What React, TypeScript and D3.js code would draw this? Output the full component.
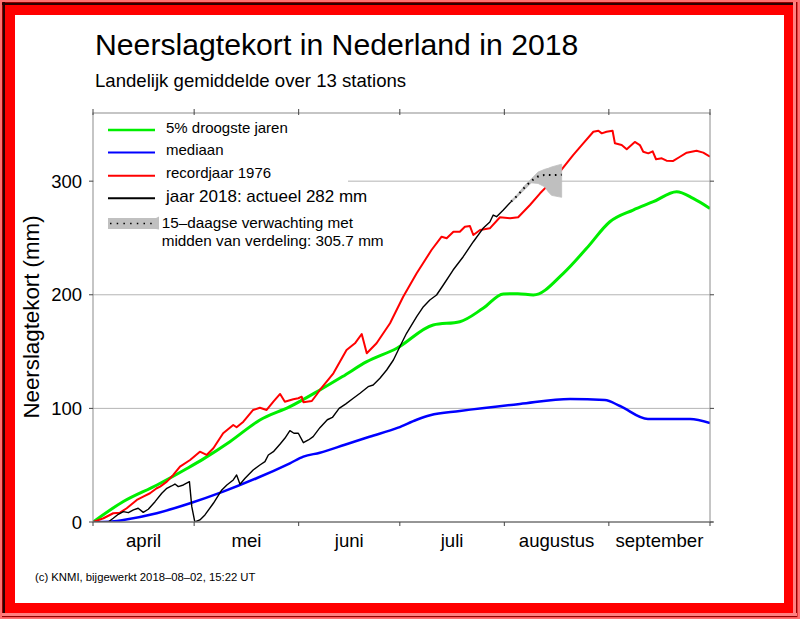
import React from 'react';
import * as d3 from 'd3';

// days since 1 April 2018
const monthStarts = [0, 30, 61, 91, 122, 153, 183];
const monthLabels = ['april', 'mei', 'juni', 'juli', 'augustus', 'september'];
const yTicks = [0, 100, 200, 300];
const gridValues = [100, 200, 300];

const droogste5: [number, number][] = [
  [0, 0], [9, 18], [19, 32.6], [28, 47.3], [33, 56], [40.6, 70.7], [49.5, 89.8], [58.4, 101.5],
  [67.3, 116.2], [74, 128], [81.2, 141.1], [90.1, 152.9], [100.9, 173.4], [108.8, 176.3],
  [115.7, 188.1], [121.7, 200.7], [126, 201], [130.6, 199.8], [139.5, 218.9], [146.4, 240.9],
  [153.3, 264.3], [160.2, 274.6], [166.2, 281.9], [173.1, 290.7], [178, 284.9], [183, 276],
];

const mediaan: [number, number][] = [
  [0, 0], [5, 0.3], [9, 1.8], [18.9, 7.7], [28.8, 16.5], [38.6, 26.7], [48.5, 38.5], [58.4, 51.7],
  [62.4, 57.5], [67.3, 61], [74.7, 68], [82, 75], [90.5, 83], [96, 90], [100, 94], [108.8, 97.7],
  [126.6, 103.9], [141.5, 108.3], [151.8, 107.4], [156.3, 102.1], [164.6, 90.7], [177.1, 90.7], [183, 87.1],
];

const record1976: [number, number][] = [
  [0, 0], [3.1, 3.3], [6, 7.7], [8, 8.2], [10, 12.1], [13, 19.4], [14.9, 22.3], [16.9, 25.3], [18.9, 29.7],
  [19.9, 31.1], [21.9, 35.5], [23.8, 41.4], [25.8, 48.7], [28.8, 54.6], [31.7, 61.9], [33.7, 59],
  [35.7, 64.9], [38.6, 78.1], [41.6, 85.4], [42.6, 83.4], [44.6, 88.3], [47.5, 98.6], [49.5, 100.6],
  [51.5, 98.6], [53.5, 105.9], [55.5, 112.7], [56.9, 105.9], [59.4, 108], [60.9, 108.9], [61.9, 110.3],
  [62.4, 105.4], [64.9, 106.5], [66.3, 112], [67.3, 116.2], [71.3, 130.9], [75.2, 151.4], [77.7, 157.3],
  [79.7, 165.5], [81.2, 148.5], [84.1, 157.3], [88.1, 174.9], [92, 198.3], [96, 218.9], [100.4, 239.4],
  [103.4, 251.1], [104.9, 249.7], [106.9, 255.5], [108.8, 255.5], [110.3, 259.9], [111.8, 260.5],
  [112.8, 252.6], [114.8, 257], [117.7, 258.5], [120.7, 268.2], [123.7, 267.3], [126.1, 268.2],
  [129.6, 279], [132.6, 289.3], [135.5, 298.1], [138.5, 308.3], [142.4, 323], [145.4, 333.3],
  [148.4, 343.5], [149.9, 344.4], [150.9, 342.1], [152.3, 343.5], [154.1, 344.4], [154.8, 333.3],
  [156.8, 331.8], [158.3, 328.1], [160.7, 334.5], [162.2, 331.8], [163.2, 325.9], [164.7, 324.5],
  [166, 326.3], [167, 319.3], [168.7, 320.1], [170.1, 318], [172.1, 317.8], [174.1, 321.5],
  [176.1, 325.1], [179, 326.8], [181, 325.1], [183, 321.5],
];

const jaar2018: [number, number][] = [
  [0, 0], [4.5, 0], [6, 3.3], [7.5, 6.8], [9, 9.1], [10.5, 8.2], [12, 10.6], [13.4, 12.1], [14.9, 8.5],
  [16.4, 11.2], [18.4, 17.9], [20.4, 25.3], [21.9, 29.7], [23.3, 31.7], [24.3, 33.4], [25.3, 31.1],
  [26.8, 32.6], [28.6, 35.5], [29.3, 13.5], [30.2, 0], [31.7, 1.8], [33.2, 6.2], [35.7, 16.5],
  [38.2, 28.2], [39.7, 32.6], [41.6, 37], [42.6, 41.4], [43.6, 33.2], [45.1, 38.5], [47.5, 45.8],
  [49.5, 50.2], [51, 53.1], [52, 59], [53.5, 61.9], [55.5, 68.7], [56.9, 73.7], [58.4, 80.4],
  [59.6, 78.1], [60.9, 78.1], [62.4, 69.8], [63.9, 72.2], [65.3, 75.1], [67.3, 83], [69.5, 90],
  [71, 92], [73, 100], [75, 104], [77.2, 108.9], [79.2, 113.3], [81.6, 119.1], [83.1, 120.6],
  [85.1, 126.5], [87.1, 133.8], [89.1, 142.6], [91, 154.3], [93, 166.1], [96, 180.7], [98, 189.5],
  [99.9, 195.4], [101.9, 199.8], [103.9, 208.6], [106.8, 221.8], [109.8, 233.5], [112.8, 246.7],
  [115.7, 258.5], [117.7, 264], [118.7, 270.2], [119.7, 268.7], [121.7, 274.6], [124, 282],
];

const fcDays = [124, 126, 128, 130, 132, 134, 135, 136, 139];
const fcMid = [282, 287.8, 294.4, 300.1, 304.1, 305.4, 305.4, 305.3, 305.7];
const fcLow = [282, 287, 292.5, 298.5, 298, 295, 290.7, 287.5, 285.8];
const fcHigh = [282, 288.5, 296, 302, 308, 310.5, 311.3, 312.5, 315];

const legendItems = [
  { label: '5% droogste jaren', color: '#00ee00', width: 3, size: 15 },
  { label: 'mediaan', color: '#0000ff', width: 2.5, size: 15 },
  { label: 'recordjaar 1976', color: '#ff0000', width: 2, size: 15 },
  { label: 'jaar 2018: actueel 282 mm', color: '#000000', width: 1.5, size: 17 },
];

const FONT = '"Liberation Sans", Arial, Helvetica, sans-serif';

export default function App() {
  const W = 800, H = 619;
  const left = 93, right = 710, top = 113, bottom = 522;
  const x = d3.scaleLinear().domain([0, 183]).range([left, right]);
  const y = d3.scaleLinear().domain([0, 360]).range([bottom, top]);

  const smooth = d3.line<[number, number]>().x(d => x(d[0])).y(d => y(d[1])).curve(d3.curveMonotoneX);
  const lin = d3.line<[number, number]>().x(d => x(d[0])).y(d => y(d[1]));

  const fcData = fcDays.map((d, i) => ({ d, m: fcMid[i], lo: fcLow[i], hi: fcHigh[i] }));
  const fcArea = d3.area<any>().x(p => x(p.d)).y0(p => y(p.lo)).y1(p => y(p.hi))(fcData) || '';
  const fcLine = d3.line<any>().x(p => x(p.d)).y(p => y(p.m)).curve(d3.curveMonotoneX)(fcData) || '';

  const legendRowY = [130, 152.5, 175.7, 198.3];
  const legendBaseY = [132.7, 155, 177.7, 201.7];

  return (
    <svg width={W} height={H} style={{ position: 'absolute', left: 0, top: 0, display: 'block' }} fontFamily={FONT}>
      <defs>
        <clipPath id="plotclip">
          <rect x={left} y={top} width={right - left} height={bottom - top} />
        </clipPath>
      </defs>
      {/* frame */}
      <rect x={0} y={0} width={W} height={H} fill="#ff0000" />
      <rect x={0} y={0} width={W} height={2} fill="#ff7070" />
      <rect x={0} y={0} width={2} height={H} fill="#ff7070" />
      <rect x={2} y={2.5} width={795} height={2.5} fill="#2a0000" />
      <rect x={2.5} y={2} width={2.5} height={615} fill="#2a0000" />
      <rect x={793} y={2} width={3} height={615} fill="#ff8080" />
      <rect x={796} y={2} width={1.5} height={615} fill="#900000" />
      <rect x={797.5} y={0} width={2.5} height={H} fill="#ff7070" />
      <rect x={2} y={613} width={795} height={3} fill="#ff8080" />
      <rect x={2} y={616} width={795} height={1.2} fill="#900000" />
      <rect x={0} y={617.2} width={W} height={1.8} fill="#ff7070" />
      <rect x={15} y={15} width={769} height={588} fill="#ffffff" />

      {/* titles */}
      <text x={95} y={55} fontSize={30.2} fill="#000">Neerslagtekort in Nederland in 2018</text>
      <text x={95} y={87} fontSize={18.6} fill="#000">Landelijk gemiddelde over 13 stations</text>

      {/* grid */}
      {gridValues.map(v => (
        <line key={v} x1={left} x2={right} y1={y(v)} y2={y(v)} stroke="#b4b4b4" strokeWidth={1} />
      ))}

      {/* series */}
      <g clipPath="url(#plotclip)" fill="none" strokeLinejoin="round">
        <path d={smooth(droogste5) || ''} stroke="#00ee00" strokeWidth={3} />
        <path d={smooth(mediaan) || ''} stroke="#0000ff" strokeWidth={2.5} />
        <path d={lin(record1976) || ''} stroke="#ff0000" strokeWidth={2} />
        <path d={lin(jaar2018) || ''} stroke="#000000" strokeWidth={1.4} />
        <path d={fcLine} stroke="#c8c8c8" strokeWidth={2.5} />
        <path d={fcArea} fill="#bfbfbf" stroke="#bfbfbf" strokeWidth={0.8} />
        <path d={fcLine} stroke="#000" strokeWidth={2} strokeDasharray="1.6 4.4" />
      </g>

      {/* legend background */}
      <rect x={left + 1} y={top + 1} width={254} height={125} fill="#fff" />

      {/* axes frame */}
      <rect x={left} y={top} width={right - left} height={bottom - top} fill="none" stroke="#8c8c8c" strokeWidth={1} />
      <line x1={left} x2={right + 3} y1={bottom} y2={bottom} stroke="#666" strokeWidth={1} />
      {yTicks.map(v => (
        <g key={v}>
          <line x1={left - 4} x2={left} y1={y(v)} y2={y(v)} stroke="#444" />
          <line x1={right} x2={right + 4} y1={y(v)} y2={y(v)} stroke="#444" />
          <text x={82} y={y(v)} dy="0.36em" textAnchor="end" fontSize={18.5} fill="#000">{v}</text>
        </g>
      ))}
      {monthStarts.map(d => (
        <g key={d}>
          <line x1={x(d)} x2={x(d)} y1={bottom} y2={bottom + 4} stroke="#444" />
          <line x1={x(d)} x2={x(d)} y1={top - 4} y2={top + 2} stroke="#444" />
        </g>
      ))}
      {monthLabels.map((m, i) => (
        <text key={m} x={(x(monthStarts[i]) + x(monthStarts[i + 1])) / 2} y={547} textAnchor="middle" fontSize={18.6} fill="#000">{m}</text>
      ))}

      <text transform="translate(39,317) rotate(-90)" textAnchor="middle" fontSize={22.3} fill="#000">Neerslagtekort (mm)</text>

      {/* legend */}
      {legendItems.map((it, i) => (
        <g key={it.label}>
          <line x1={108} x2={155} y1={legendRowY[i]} y2={legendRowY[i]} stroke={it.color} strokeWidth={it.width === 3 ? 2.5 : 2} />
          <text x={166} y={legendBaseY[i]} fontSize={it.size} fill="#000">{it.label}</text>
        </g>
      ))}
      <path d="M108,218 L156,218 L159,216.5 L159,229.5 L156,229 L108,229 Z" fill="#c0c0c0" />
      <line x1={110} x2={156} y1={223.5} y2={223.5} stroke="#000" strokeWidth={1.6} strokeDasharray="1.5 5.2" />
      <text x={161.7} y={227.7} fontSize={15.3} fill="#000">15–daagse verwachting met</text>
      <text x={161.7} y={246} fontSize={15.3} fill="#000">midden van verdeling: 305.7 mm</text>

      {/* footer */}
      <text x={35} y={581} fontSize={11.3} fill="#000">(c) KNMI, bijgewerkt 2018–08–02, 15:22 UT</text>
    </svg>
  );
}
